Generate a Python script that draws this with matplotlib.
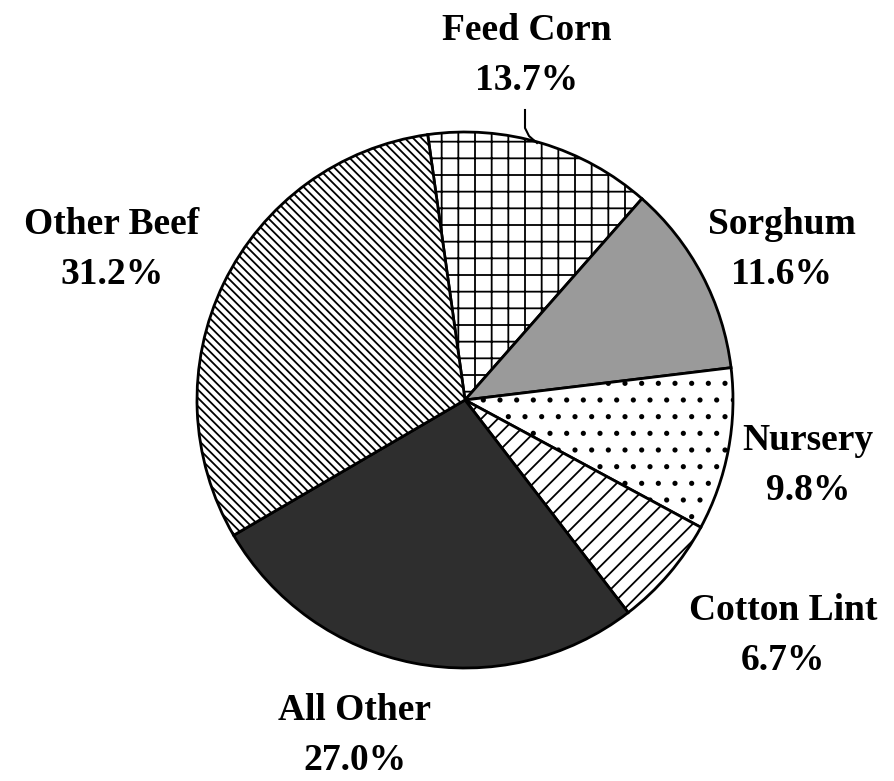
import numpy as np
import matplotlib.pyplot as plt

# crop value shares, clockwise from the top
labels = ["Feed Corn", "Sorghum", "Nursery", "Cotton Lint", "All Other", "Other Beef"]
shares = [13.7, 11.6, 9.8, 6.7, 27.0, 31.2]
colors = ["white", "#9a9a9a", "white", "white", "#2e2e2e", "white"]
hatches = ["+", "", ".", "//", "", "\\\\\\\\"]

plt.rcParams['font.family'] = ['Liberation Serif', 'DejaVu Serif']
plt.rcParams['hatch.linewidth'] = 1.3

fig = plt.figure(figsize=(8.94, 7.81), dpi=100)
ax = fig.add_axes([0, 0, 1, 1])

H = 781
wedges, _ = ax.pie(shares, colors=colors, startangle=98, counterclock=False,
                   center=(465, H - 400), radius=268,
                   wedgeprops=dict(edgecolor='black', linewidth=2))
for w, h in zip(wedges, hatches):
    w.set_hatch(h)

ax.set_xlim(0, 894)
ax.set_ylim(0, 781)
ax.set_aspect('equal')
ax.axis('off')

# label positions (pixel coords from top-left)
label_pos = [(527, 30), (782, 225), (808, 440), (783, 610), (355, 710), (112, 225)]
for name, val, (x, y) in zip(labels, shares, label_pos):
    ax.text(x, H - y, name, ha='center', va='center', fontsize=27, fontweight='bold')
    ax.text(x, H - y - 50, f"{val:.1f}%", ha='center', va='center', fontsize=27, fontweight='bold')

# leader line for Feed Corn
ax.plot([525, 525, 529, 537], [H - 110, H - 128, H - 136, H - 143], color='black', linewidth=1.5)

fig.savefig("out.png", dpi=100)
